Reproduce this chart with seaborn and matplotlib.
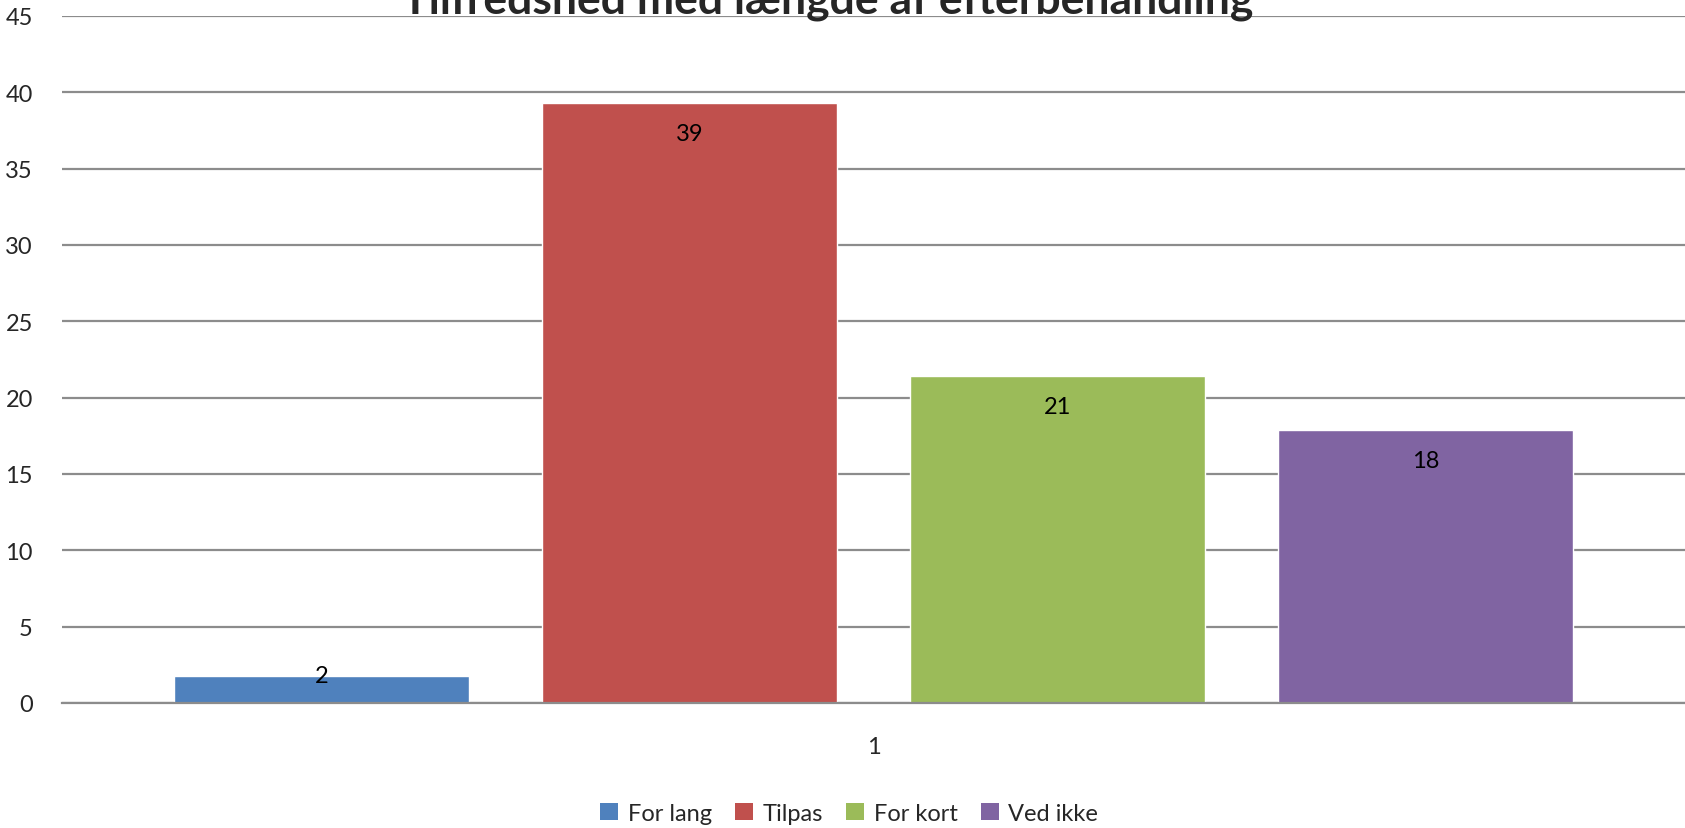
import matplotlib
matplotlib.use("Agg")
import matplotlib.pyplot as plt
from matplotlib.patches import Patch
import seaborn as sns
import pandas as pd

title = "Tilfredshed med længde af efterbehandling"
categories = ["For lang", "Tilpas", "For kort", "Ved ikke"]
values = [1.79, 39.29, 21.43, 17.86]
labels = ["2", "39", "21", "18"]
colors = ["#4F81BD", "#C0504D", "#9BBB59", "#8064A2"]
group_label = "1"
yticks = [0, 5, 10, 15, 20, 25, 30, 35, 40, 45]

sns.set_style("white")
plt.rcParams["font.family"] = ["Lato", "DejaVu Sans"]

df = pd.DataFrame({"cat": categories, "val": values})

fig = plt.figure(figsize=(16.85, 8.29), dpi=100)
ax = fig.add_axes([0.0368, 0.1508, 0.9632, 0.8287])

sns.barplot(data=df, x="cat", y="val", hue="cat", palette=colors,
            hue_order=categories, order=categories, width=0.804,
            saturation=1, legend=False, ax=ax)

ax.set_xlim(-0.705, 3.705)
ax.set_ylim(0, 45)
ax.set_yticks(yticks)
ax.yaxis.grid(True, color="#8c8c8c", linewidth=1.6)
ax.set_axisbelow(True)
for s in ["top", "right", "left"]:
    ax.spines[s].set_visible(False)
ax.spines["bottom"].set_color("#8c8c8c")
ax.spines["bottom"].set_linewidth(1.6)
ax.set_xticks([1.5])
ax.set_xticklabels([group_label])
ax.tick_params(axis="x", length=0, pad=24, labelsize=17)
ax.tick_params(axis="y", length=0, pad=21, labelsize=17)
ax.set_xlabel("")
ax.set_ylabel("")

for i, (v, lab) in enumerate(zip(values, labels)):
    y = v - 2.0 if v > 4 else v
    ax.text(i, y, lab, ha="center", va="center", fontsize=17, color="black")

fig.text(0.491, 0.999, title, ha="center", va="center",
         fontsize=32, fontweight="bold")

handles = [Patch(facecolor=c, edgecolor="none") for c in colors]
fig.legend(handles, categories, loc="center", bbox_to_anchor=(0.504, 0.018),
           ncol=4, frameon=False, fontsize=17, handlelength=0.75,
           handleheight=0.75, handletextpad=0.4, columnspacing=1.0)

fig.savefig("out.png", dpi=100)
